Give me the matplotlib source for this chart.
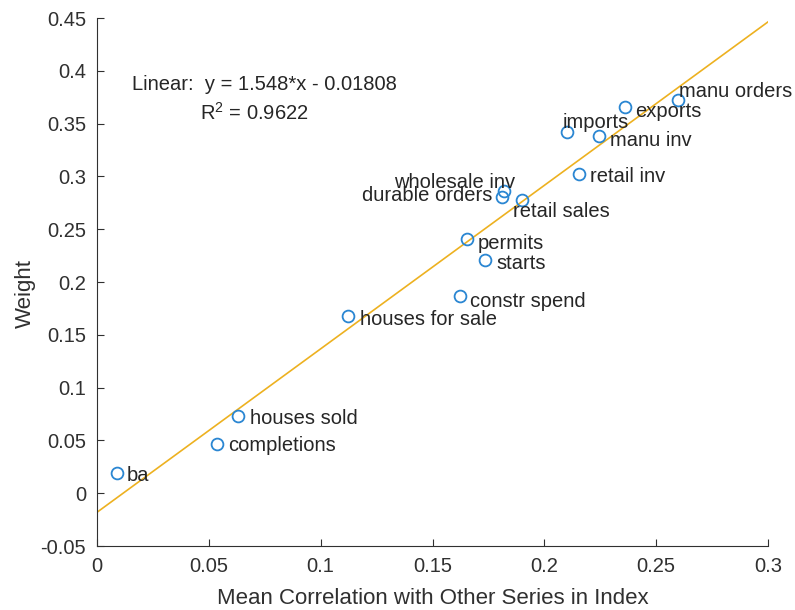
import matplotlib
matplotlib.use("Agg")
import matplotlib.pyplot as plt
import numpy as np

# Series names and their statistics
series_names = ["ba", "completions", "houses sold", "houses for sale", "constr spend",
                "starts", "permits", "durable orders", "wholesale inv", "retail sales",
                "retail inv", "imports", "manu inv", "exports", "manu orders"]
mean_corr = [0.0089, 0.0537, 0.0630, 0.1122, 0.1623,
             0.1735, 0.1654, 0.1811, 0.1820, 0.1900,
             0.2155, 0.2101, 0.2244, 0.2361, 0.2598]
weights = [0.0189, 0.0464, 0.0729, 0.1681, 0.1866,
           0.2206, 0.2405, 0.2803, 0.2860, 0.2775,
           0.3021, 0.3419, 0.3381, 0.3655, 0.3722]

# Linear fit coefficients
fit_slope = 1.548
fit_intercept = -0.01808
fit_r2 = 0.9622

x_ticks = [0, 0.05, 0.1, 0.15, 0.2, 0.25, 0.3]
x_tick_labels = ["0", "0.05", "0.1", "0.15", "0.2", "0.25", "0.3"]
y_ticks = [-0.05, 0, 0.05, 0.1, 0.15, 0.2, 0.25, 0.3, 0.35, 0.4, 0.45]
y_tick_labels = ["-0.05", "0", "0.05", "0.1", "0.15", "0.2", "0.25", "0.3", "0.35", "0.4", "0.45"]

# Label placement (offset in points, horizontal alignment)
label_place = {
    "ba": ((7, -1.5), "left"),
    "completions": ((8, -1), "left"),
    "houses sold": ((8.5, -2), "left"),
    "houses for sale": ((8.5, -3), "left"),
    "constr spend": ((7.5, -3.5), "left"),
    "starts": ((8, -2), "left"),
    "permits": ((8, -3), "left"),
    "durable orders": ((-7, 1.5), "right"),
    "wholesale inv": ((8, 6.5), "right"),
    "retail sales": ((-6.5, -8.5), "left"),
    "retail inv": ((8, -2), "left"),
    "imports": ((-3, 7), "left"),
    "manu inv": ((8, -3), "left"),
    "exports": ((7, -3), "left"),
    "manu orders": ((1, 6.5), "left"),
}

plt.rcParams["font.family"] = ["Liberation Sans", "DejaVu Sans"]
plt.rcParams["mathtext.fontset"] = "custom"
plt.rcParams["mathtext.rm"] = "Liberation Sans"
plt.rcParams["mathtext.it"] = "Liberation Sans:italic"

text_col = "#303030"
W, H = 795, 610
fig = plt.figure(figsize=(W / 100, H / 100), dpi=100)
ax = fig.add_axes([97 / W, 1 - 546 / H, (768 - 97) / W, (546 - 18) / H])

xl = np.array([0.0, 0.3])
ax.plot(xl, fit_slope * xl + fit_intercept, color="#EDB120", lw=1.2, zorder=2)
ax.plot(mean_corr, weights, linestyle="none", marker="o", markersize=8.5,
        markerfacecolor="none", markeredgecolor="#2a86d2", markeredgewidth=1.3, zorder=3)

for name, xv, yv in zip(series_names, mean_corr, weights):
    off, ha = label_place[name]
    ax.annotate(name, (xv, yv), xytext=off, textcoords="offset points",
                ha=ha, va="center", fontsize=14.5, color="#262626", zorder=4,
                annotation_clip=False)

ax.text(132 / W, 1 - 84 / H, "Linear:  y = %.3f*x - %.5f" % (fit_slope, -fit_intercept),
        transform=fig.transFigure, fontsize=14.5, color="#262626", ha="left", va="center")
ax.text(200 / W, 1 - 113 / H, r"R$^2$ = %.4f" % fit_r2,
        transform=fig.transFigure, fontsize=14.5, color="#262626", ha="left", va="center")

ax.set_xlim(0, 0.3)
ax.set_ylim(-0.05, 0.45)
ax.set_xticks(x_ticks)
ax.set_xticklabels(x_tick_labels)
ax.set_yticks(y_ticks)
ax.set_yticklabels(y_tick_labels)
ax.tick_params(direction="in", length=5, width=0.8, colors=text_col,
               labelsize=14.5, labelcolor=text_col, pad=8)
for s in ["top", "right"]:
    ax.spines[s].set_visible(False)
for s in ["left", "bottom"]:
    ax.spines[s].set_color(text_col)
    ax.spines[s].set_linewidth(0.8)

ax.set_xlabel("Mean Correlation with Other Series in Index", fontsize=16, color=text_col)
ax.set_ylabel("Weight", fontsize=16, color=text_col)
ax.xaxis.set_label_coords(0.5, (546 - 598) / 528, transform=ax.transAxes)
ax.xaxis.label.set_va("center")
ax.yaxis.set_label_coords((25 - 97) / 671, (546 - 293) / 528, transform=ax.transAxes)
ax.yaxis.label.set_va("center")

fig.savefig("out.png", dpi=100)
